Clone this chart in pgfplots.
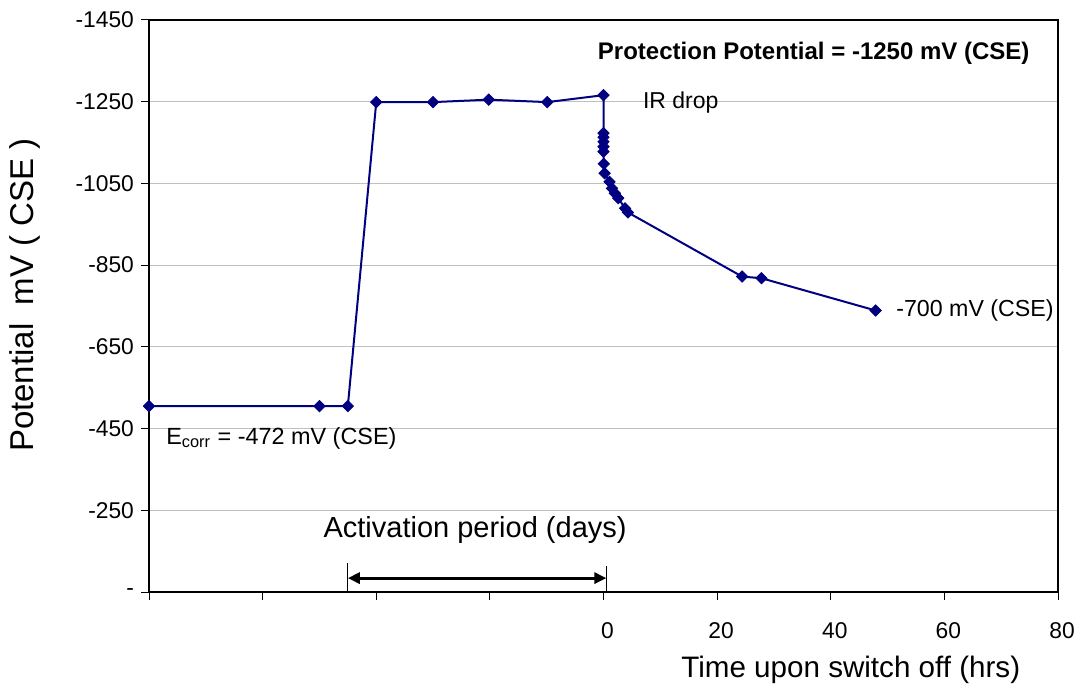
\documentclass[border=0pt]{standalone}
\usepackage{fontspec}
\setmainfont{Liberation Sans}
\usepackage{pgfplots}
\pgfplotsset{compat=1.18}
\usetikzlibrary{arrows.meta}
\definecolor{navy}{RGB}{0,0,128}
\definecolor{gridgray}{RGB}{192,192,192}
\begin{document}
\begin{tikzpicture}
\begin{axis}[name=ax, scale only axis, width=454.5pt, height=286pt,
 xmin=-80, xmax=80, ymin=-1450, ymax=-50, y dir=reverse,
 xtick={-80,-60,...,80}, xticklabels={,,,,0,20,40,60,80},
 ytick={-1450,-1250,-1050,-850,-650,-450,-250,-50},
 yticklabels={-1450,-1250,-1050,-850,-650,-450,-250,-},
 xtick pos=bottom, ytick pos=left,
 ymajorgrids, grid style={gridgray, line width=0.5pt},
 tick align=outside, major tick length=4pt, tick style={black, line width=0.5pt},
 axis line style={black, line width=0.6pt},
 ticklabel style={font=\fontsize{11.4}{13}\selectfont},
 xticklabel style={yshift=-8pt, xshift=2pt},
 /pgf/number format/assume math mode=true,
 xlabel={Time upon switch off (hrs)}, ylabel={Potential\ \ mV ( CSE )},
 xlabel style={at={(axis description cs:0.772,-0.136)}, anchor=center, font=\fontsize{14.8}{17}\selectfont},
 ylabel style={at={(axis description cs:-0.1364,0.519)}, anchor=center, font=\fontsize{16.5}{19}\selectfont},
 clip=false]
\addplot[navy, line width=1pt, mark=square*, mark size=2pt, mark options={fill=navy, line width=0.4pt, rotate=45}] coordinates {
(-80,-505) (-50,-505) (-45,-505) (-40,-1249) (-30,-1249) (-20.2,-1255) (-9.9,-1249) (0,-1266)
(0,-1173) (0,-1163) (0,-1152) (0,-1140) (0,-1128) (0.05,-1098) (0.2,-1075) (1.06,-1054)
(1.5,-1038) (2.0,-1026) (2.6,-1014) (3.8,-989) (4.3,-979) (24.4,-822) (27.8,-818) (47.9,-739)
};
\node[font=\fontsize{12}{14}\selectfont\bfseries] at (axis cs:37,-1369) {Protection Potential = -1250 mV (CSE)};
\node[font=\fontsize{11.5}{14}\selectfont] at (axis cs:13.6,-1249) {IR drop};
\node[font=\fontsize{11.6}{14}\selectfont, anchor=west] at (axis cs:50.3,-738) {-700 mV (CSE)};
\node[font=\fontsize{11.7}{14}\selectfont] at (axis cs:-56.7,-427) {E\textsubscript{corr} = -472 mV (CSE)};
\node[font=\fontsize{14.5}{17}\selectfont] at (axis cs:-22.6,-202) {Activation period (days)};
\draw[black, line width=1.5pt, {Triangle[length=6pt,width=5.5pt]}-{Triangle[length=6pt,width=5.5pt]}] (axis cs:-45,-84) -- (axis cs:0.5,-84);
\draw[black, line width=0.5pt] (axis cs:-45,-120) -- (axis cs:-45,-50);
\draw[black, line width=0.5pt] (axis cs:0.5,-113) -- (axis cs:0.5,-50);
\end{axis}
\pgfresetboundingbox
\path[use as bounding box] ([shift={(-74.5pt,-50.5pt)}]ax.south west) rectangle ([shift={(15.5pt,10pt)}]ax.north east);
\end{tikzpicture}
\end{document}
